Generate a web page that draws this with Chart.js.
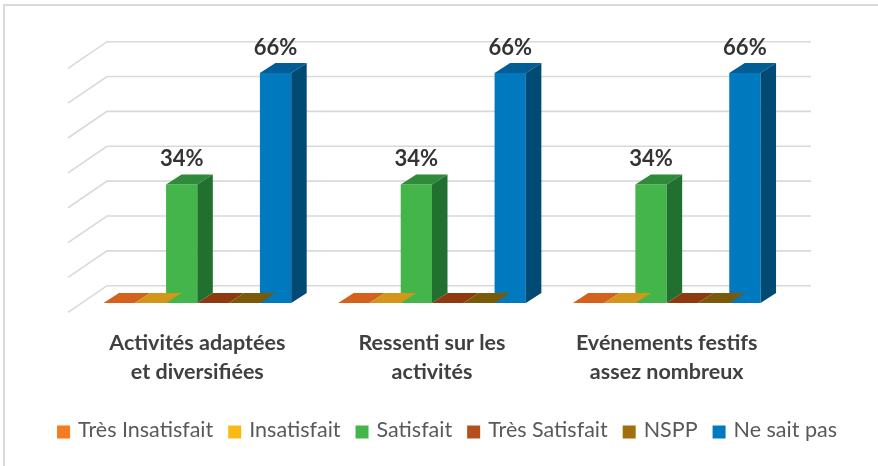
<!DOCTYPE html>
<html><head><meta charset="utf-8">
<script src="https://cdn.jsdelivr.net/npm/chart.js@4/dist/chart.umd.min.js"></script>
<style>html,body{margin:0;padding:0;background:#fff;}#wrap{position:relative;width:878px;height:466px;}</style>
</head><body><div id="wrap"><canvas id="c" width="878" height="466"></canvas></div>
<script>
// ---- data ----
const categories = [["Activités adaptées","et diversifiées"],["Ressenti sur les","activités"],["Evénements festifs","assez nombreux"]];
const seriesNames = ["Très Insatisfait","Insatisfait","Satisfait","Très Satisfait","NSPP","Ne sait pas"];
const tresInsatisfait = [0,0,0];
const insatisfait = [0,0,0];
const satisfait = [34,34,34];
const tresSatisfait = [0,0,0];
const nspp = [0,0,0];
const neSaitPas = [66,66,66];
const gridTicks = [0,10,20,30,40,50,60,70];

// ---- styles ----
const frontColors = ["#F47B20","#FDB913","#43B54A","#B5501C","#A0700C","#0079BE"];
const topColors   = ["#D4621C","#D4961A","#2E8B3A","#8F3A0E","#7A5A08","#005D96"];
const sideColors  = ["#B5531A","#B58012","#22702F","#74300B","#634906","#004A74"];
const FONT = "Lato, 'Open Sans', sans-serif";
const DEPTH_DX = 15.5, DEPTH_DY = -10;
const WALL_DX = 27, WALL_DY = -17.3;
const FLOOR_DX = -39, FLOOR_DY = 26.6;

const seriesValues = [tresInsatisfait, insatisfait, satisfait, tresSatisfait, nspp, neSaitPas];

const threeD = {
  id: 'threeD',
  beforeDatasetsDraw(chart) {
    const ctx = chart.ctx, ca = chart.chartArea, ys = chart.scales.y;
    ctx.save();
    ctx.strokeStyle = '#D9D9D9'; ctx.lineWidth = 2;
    ctx.beginPath(); ctx.moveTo(4, 466); ctx.lineTo(4, 5); ctx.lineTo(878, 5); ctx.stroke();
    ctx.strokeStyle = '#D9D9D9'; ctx.lineWidth = 1.6;
    gridTicks.forEach(v => {
      const y = ys.getPixelForValue(v) + WALL_DY;
      const xl = ca.left + WALL_DX, xr = ca.right + WALL_DX;
      ctx.beginPath();
      ctx.moveTo(xl + FLOOR_DX, y + FLOOR_DY);
      ctx.lineTo(xl, y);
      ctx.lineTo(xr, y);
      ctx.stroke();
    });
    ctx.restore();
  },
  afterDatasetsDraw(chart) {
    const ctx = chart.ctx;
    ctx.save();
    chart.data.datasets.forEach((ds, di) => {
      const meta = chart.getDatasetMeta(di);
      meta.data.forEach((bar, i) => {
        const v = ds.data[i];
        const w = bar.width, l = bar.x - w/2, r = bar.x + w/2, y = bar.y, b = bar.base;
        ctx.fillStyle = topColors[di];
        ctx.beginPath();
        ctx.moveTo(l, y); ctx.lineTo(r, y); ctx.lineTo(r + DEPTH_DX, y + DEPTH_DY); ctx.lineTo(l + DEPTH_DX, y + DEPTH_DY);
        ctx.closePath(); ctx.fill();
        if (v > 0) {
          ctx.fillStyle = sideColors[di];
          ctx.beginPath();
          ctx.moveTo(r, y); ctx.lineTo(r + DEPTH_DX, y + DEPTH_DY); ctx.lineTo(r + DEPTH_DX, b + DEPTH_DY); ctx.lineTo(r, b);
          ctx.closePath(); ctx.fill();
          ctx.fillStyle = '#333333';
          ctx.font = 'bold 22px ' + FONT;
          ctx.textAlign = 'center'; ctx.textBaseline = 'alphabetic';
          ctx.fillText(v + '%', bar.x, y + DEPTH_DY - 8);
        }
      });
    });
    ctx.restore();
  },
  afterDraw(chart) {
    const ctx = chart.ctx;
    ctx.save();
    ctx.font = '21.5px ' + FONT;
    const box = 13, gap = 8, spacing = 15;
    const widths = seriesNames.map(n => box + gap + ctx.measureText(n).width);
    const total = widths.reduce((a, b) => a + b, 0) + spacing * (seriesNames.length - 1);
    let x = 447 - total / 2;
    const cy = 430;
    seriesNames.forEach((n, i) => {
      ctx.fillStyle = frontColors[i];
      ctx.fillRect(x, cy + 2 - box/2, box, box);
      ctx.fillStyle = '#595959';
      ctx.textAlign = 'left'; ctx.textBaseline = 'middle';
      ctx.fillText(n, x + box + gap, cy);
      x += widths[i] + spacing;
    });
    ctx.restore();
  }
};

new Chart(document.getElementById('c'), {
  type: 'bar',
  data: {
    labels: categories,
    datasets: seriesNames.map((n, i) => ({
      label: n,
      data: seriesValues[i],
      backgroundColor: frontColors[i],
      borderWidth: 0,
      barPercentage: 1,
      categoryPercentage: 0.8
    }))
  },
  options: {
    responsive: false,
    animation: false,
    devicePixelRatio: 1,
    layout: { padding: { left: 80, right: 94, top: 59, bottom: 54 } },
    scales: {
      x: {
        grid: { display: false, drawTicks: false },
        border: { display: false },
        ticks: { color: '#404040', padding: 25.5, font: { family: FONT, size: 21.5, weight: 'bold', lineHeight: 29/21.5 } }
      },
      y: { display: false, min: 0, max: 70 }
    },
    plugins: { legend: { display: false }, tooltip: { enabled: false } }
  },
  plugins: [threeD]
});
</script></body></html>
